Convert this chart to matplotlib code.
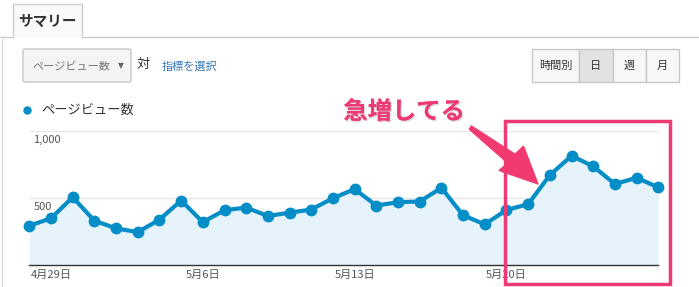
import matplotlib
matplotlib.use("Agg")
import matplotlib.pyplot as plt
from matplotlib.patches import Rectangle, FancyBboxPatch, Polygon, Circle
import matplotlib.patheffects as pe

plt.rcParams['font.family'] = ['Noto Sans CJK JP', 'DejaVu Sans']

# ---- data ----
days = [f"4月{d}日" for d in (28, 29, 30)] + [f"5月{d}日" for d in range(1, 28)]
pageviews = [295, 350, 507, 332, 275, 247, 340, 482, 322, 410, 430, 367, 392, 415, 500,
             567, 445, 470, 475, 577, 372, 305, 412, 455, 672, 815, 737, 605, 652, 580]
xtick_labels = ["4月29日", "5月6日", "5月13日", "5月20日"]
ytick_values = [500, 1000]
ytick_labels = ["500", "1,000"]
series_name = "ページビュー数"
buttons = ["時間別", "日", "週", "月"]
annotation_text = "急増してる"

W, H = 699, 287
fig = plt.figure(figsize=(W / 100, H / 100), dpi=100)
fig.patch.set_facecolor("white")

def fx(x):
    return x / W

def fy(y):
    return 1 - y / H

# ---- chart axes ----
left, right, top, bottom = 29.3, 658.3, 131.0, 265.3
ax = fig.add_axes([fx(left), fy(bottom), fx(right - left), (bottom - top) / H])
xs = list(range(len(days)))
blue = "#058DC7"
ax.fill_between(xs, pageviews, 0, color="#E6F3FA", zorder=1, lw=0)
ax.plot(xs, pageviews, color=blue, lw=3.0, marker="o", ms=7.5, zorder=3, clip_on=False,
        solid_joinstyle="round")
ax.set_xlim(0, len(days) - 1)
ax.set_ylim(0, 1000)
for v, lab in zip(ytick_values, ytick_labels):
    ax.axhline(v, color="#e6e6e6", lw=0.9, zorder=0)
    ax.annotate(lab, xy=(0, v), xycoords=("axes fraction", "data"), xytext=(3, -3),
                textcoords="offset points", va="top", ha="left", fontsize=8, color="#555555")
ax.set_yticks([])
ax.set_xticks([days.index(l) for l in xtick_labels])
ax.set_xticklabels(xtick_labels, fontsize=8, color="#555555")
ax.tick_params(axis="x", length=0, pad=3)
for s in ["top", "left", "right"]:
    ax.spines[s].set_visible(False)
ax.spines["bottom"].set_color("#333333")
ax.spines["bottom"].set_linewidth(1.0)
ax.patch.set_alpha(0)

# ---- overlay for UI / annotation ----
ov = fig.add_axes([0, 0, 1, 1], zorder=10)
ov.set_xlim(0, W)
ov.set_ylim(H, 0)
ov.axis("off")
ov.patch.set_alpha(0)

gray_line = "#cccccc"
# tab
ov.plot([0, 12.5], [37, 37], color=gray_line, lw=1)
ov.plot([81.5, W], [37, 37], color=gray_line, lw=1)
ov.plot([12.5, 12.5, 81.5, 81.5], [37, 4, 4, 37], color=gray_line, lw=1)
ov.add_patch(Rectangle((12.5, 4), 69, 33, facecolor="#fafafa", edgecolor="none", zorder=0))
ov.text(47, 21, "サマリー", fontsize=10.5, fontweight="bold", color="#333333",
        ha="center", va="center")
ov.plot([2, 2], [37, H], color="#e0e0e0", lw=1)

# dropdown
ov.add_patch(FancyBboxPatch((23, 49), 108, 33, boxstyle="round,pad=0,rounding_size=2",
                            facecolor="#f4f4f4", edgecolor="#c8c8c8", lw=1))
ov.text(32, 66, series_name, fontsize=8, color="#777777", ha="left", va="center")
ov.text(121, 66, "▼", fontsize=5.5, color="#666666", ha="center", va="center",
        family="DejaVu Sans")
ov.text(143, 64, "対", fontsize=9.5, color="#333333", ha="center", va="center")
ov.text(162, 67, "指標を選択", fontsize=8, color="#3577b8", ha="left", va="center")

# buttons
bx = [532, 579, 612.5, 646, 678.5]
for i, lab in enumerate(buttons):
    sel = lab == "日"
    ov.add_patch(Rectangle((bx[i], 49), bx[i + 1] - bx[i], 33,
                           facecolor="#e2e2e2" if sel else "#f7f7f7",
                           edgecolor="#c8c8c8", lw=1))
    ov.text((bx[i] + bx[i + 1]) / 2, 66, lab, fontsize=8, color="#333333",
            ha="center", va="center")

# legend
ov.add_patch(Circle((27.5, 110.5), 4.2, facecolor=blue, edgecolor="none"))
ov.text(41, 110.5, series_name, fontsize=9.5, color="#333333", ha="left", va="center")

# highlight box
pink = "#EE3A72"
ov.add_patch(Rectangle((505, 121), 165, 163, facecolor="none", edgecolor=pink, lw=2.5))

# annotation text
ov.text(404, 112, annotation_text, fontsize=17.5, fontweight="bold", color=pink,
        ha="center", va="center",
        path_effects=[pe.withStroke(linewidth=5, foreground="white"),
                      pe.SimplePatchShadow(offset=(1, -1), shadow_rgbFace="#bbbbbb", alpha=0.5),
                      pe.Normal()])

# arrow (tapered shaft + head)
arrow = Polygon([(469.2, 129.3), (471.3, 125.8), (515, 154), (523.5, 146), (538, 184),
                 (499, 170.5), (507.5, 163)], closed=True,
                facecolor="#F23A70", edgecolor="#F23A70", lw=0.8, joinstyle="round",
                path_effects=[pe.SimplePatchShadow(offset=(1, -1), shadow_rgbFace="#999999", alpha=0.4),
                              pe.Normal()])
ov.add_patch(arrow)

fig.savefig("out.png", dpi=100, facecolor="white")
